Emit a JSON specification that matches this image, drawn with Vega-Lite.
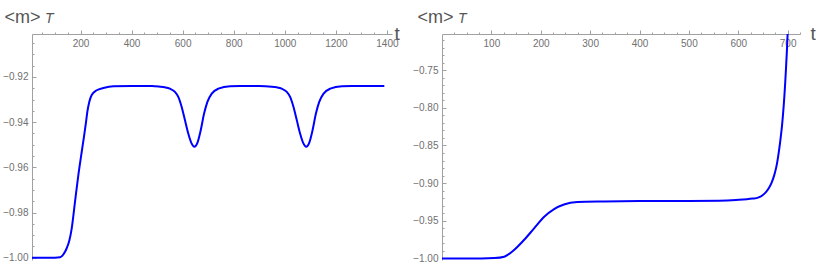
{
  "$schema": "https://vega.github.io/schema/vega-lite/v6.json",
  "padding": {"left": 2, "top": 8, "right": 0, "bottom": 0},
  "background": "white",
  "bounds": "flush",
  "spacing": 50,
  "config": {
    "view": {"stroke": null},
    "font": "Liberation Sans",
    "axis": {
      "grid": false,
      "domainColor": "#a0a0a0",
      "tickColor": "#a0a0a0",
      "labelColor": "#707070",
      "labelFontSize": 10,
      "labelFont": "Liberation Sans",
      "titleFont": "Liberation Sans",
      "titleFontWeight": "normal",
      "titleColor": "#555555",
      "labelFlush": false,
      "labelOverlap": false
    }
  },
  "hconcat": [
    {
      "width": 360,
      "height": 226,
      "data": {"values": [
        {"t": 10, "m": -1.0}, {"t": 100, "m": -1.0}, {"t": 120, "m": -0.9998}, {"t": 133, "m": -0.9985},
        {"t": 146, "m": -0.9958}, {"t": 156, "m": -0.9925}, {"t": 165.6, "m": -0.987}, {"t": 178.5, "m": -0.9752},
        {"t": 191.5, "m": -0.9634}, {"t": 204.8, "m": -0.9531}, {"t": 213.5, "m": -0.9465}, {"t": 221.6, "m": -0.94},
        {"t": 226.7, "m": -0.9355}, {"t": 234.5, "m": -0.931}, {"t": 243.9, "m": -0.928}, {"t": 263.5, "m": -0.9259},
        {"t": 289.4, "m": -0.9249}, {"t": 328.5, "m": -0.9241}, {"t": 400, "m": -0.924}, {"t": 480, "m": -0.924},
        {"t": 511, "m": -0.9243}, {"t": 530, "m": -0.9246}, {"t": 550, "m": -0.9252}, {"t": 570, "m": -0.9266},
        {"t": 583, "m": -0.9288}, {"t": 596, "m": -0.9332}, {"t": 609, "m": -0.9391}, {"t": 622, "m": -0.945},
        {"t": 635, "m": -0.9494}, {"t": 646, "m": -0.9509}, {"t": 657, "m": -0.9494}, {"t": 671, "m": -0.9435},
        {"t": 684, "m": -0.9362}, {"t": 697, "m": -0.931}, {"t": 714, "m": -0.9274}, {"t": 740, "m": -0.9252},
        {"t": 786, "m": -0.9241}, {"t": 825, "m": -0.924}, {"t": 900, "m": -0.924},
        {"t": 949, "m": -0.9243}, {"t": 968, "m": -0.9246}, {"t": 988, "m": -0.9252}, {"t": 1008, "m": -0.9266},
        {"t": 1021, "m": -0.9288}, {"t": 1034, "m": -0.9332}, {"t": 1047, "m": -0.9391}, {"t": 1060, "m": -0.945},
        {"t": 1073, "m": -0.9494}, {"t": 1084, "m": -0.9509}, {"t": 1095, "m": -0.9494}, {"t": 1109, "m": -0.9435},
        {"t": 1122, "m": -0.9362}, {"t": 1135, "m": -0.931}, {"t": 1152, "m": -0.9274}, {"t": 1178, "m": -0.9252},
        {"t": 1224, "m": -0.9241}, {"t": 1263, "m": -0.924}, {"t": 1390, "m": -0.924}
      ]},
      "title": {"text": "T", "anchor": "start", "frame": "group", "fontStyle": "italic", "fontSize": 14, "fontWeight": "normal", "color": "#555555", "dx": 13, "offset": -29, "baseline": "alphabetic"},
      "mark": {"type": "line", "color": "#0000ff", "strokeWidth": 2, "interpolate": "monotone", "clip": true},
      "encoding": {
        "x": {
          "field": "t", "type": "quantitative",
          "scale": {"domain": [10, 1420], "nice": false, "zero": false},
          "axis": {
            "orient": "bottom", "offset": -226,
            "values": [50,100,150,200,250,300,350,400,450,500,550,600,650,700,750,800,850,900,950,1000,1050,1100,1150,1200,1250,1300,1350,1400],
            "format": "d",
            "labelExpr": "datum.value % 200 === 0 ? datum.label : ''",
            "tickSize": {"condition": {"test": "datum.value % 200 === 0", "value": -4}, "value": -2},
            "labelPadding": 8,
            "title": "t", "titleX": 362, "titleY": 5, "titleAlign": "left", "titleBaseline": "alphabetic", "titleFontSize": 19, "titleAngle": 0
          }
        },
        "y": {
          "field": "m", "type": "quantitative",
          "scale": {"domain": [-1.001, -0.901], "nice": false, "zero": false},
          "axis": {
            "values": [-1.0,-0.995,-0.99,-0.985,-0.98,-0.975,-0.97,-0.965,-0.96,-0.955,-0.95,-0.945,-0.94,-0.935,-0.93,-0.925,-0.92,-0.915,-0.91,-0.905],
            "format": ".2f",
            "labelExpr": "abs(datum.value*50 - round(datum.value*50)) < 0.000001 ? datum.label : ''",
            "tickSize": {"condition": {"test": "abs(datum.value*50 - round(datum.value*50)) < 0.000001", "value": -4}, "value": -2},
            "labelPadding": 8,
            "title": "<m>", "titleX": -28, "titleY": -12, "titleAlign": "left", "titleBaseline": "alphabetic", "titleFontSize": 18, "titleAngle": 0
          }
        }
      }
    },
    {
      "width": 358,
      "height": 226,
      "data": {"values": [
        {"t": 0, "m": -1.0}, {"t": 80, "m": -1.0}, {"t": 106, "m": -0.9995}, {"t": 126, "m": -0.9976},
        {"t": 146, "m": -0.9887}, {"t": 166, "m": -0.9755}, {"t": 186.5, "m": -0.96}, {"t": 207, "m": -0.9446},
        {"t": 227, "m": -0.9344}, {"t": 247, "m": -0.9283}, {"t": 274, "m": -0.9251}, {"t": 328, "m": -0.9243},
        {"t": 400, "m": -0.9238}, {"t": 500, "m": -0.9236}, {"t": 561.5, "m": -0.9233}, {"t": 595.4, "m": -0.9224},
        {"t": 629, "m": -0.9205}, {"t": 640, "m": -0.9192}, {"t": 649.3, "m": -0.916}, {"t": 656, "m": -0.912},
        {"t": 662.9, "m": -0.9055}, {"t": 668, "m": -0.8985}, {"t": 673, "m": -0.889}, {"t": 676.5, "m": -0.88},
        {"t": 679.7, "m": -0.869}, {"t": 682.2, "m": -0.858}, {"t": 684.6, "m": -0.8465}, {"t": 686.7, "m": -0.835},
        {"t": 688.6, "m": -0.8235}, {"t": 690.3, "m": -0.811}, {"t": 691.9, "m": -0.798}, {"t": 693.5, "m": -0.783},
        {"t": 695.1, "m": -0.766}, {"t": 696.7, "m": -0.747}, {"t": 698.4, "m": -0.725}, {"t": 700, "m": -0.701}
      ]},
      "title": {"text": "T", "anchor": "start", "frame": "group", "fontStyle": "italic", "fontSize": 14, "fontWeight": "normal", "color": "#555555", "dx": 16, "offset": -29, "baseline": "alphabetic"},
      "mark": {"type": "line", "color": "#0000ff", "strokeWidth": 2, "interpolate": "monotone", "clip": true},
      "encoding": {
        "x": {
          "field": "t", "type": "quantitative",
          "scale": {"domain": [0, 725], "nice": false, "zero": false},
          "axis": {
            "orient": "bottom", "offset": -226,
            "values": [25,50,75,100,125,150,175,200,225,250,275,300,325,350,375,400,425,450,475,500,525,550,575,600,625,650,675,700,725],
            "format": "d",
            "labelExpr": "datum.value % 100 === 0 ? datum.label : ''",
            "tickSize": {"condition": {"test": "datum.value % 100 === 0", "value": -4}, "value": -2},
            "labelPadding": 8,
            "title": "t", "titleX": 368, "titleY": 5, "titleAlign": "left", "titleBaseline": "alphabetic", "titleFontSize": 19, "titleAngle": 0
          }
        },
        "y": {
          "field": "m", "type": "quantitative",
          "scale": {"domain": [-1.002, -0.702], "nice": false, "zero": false},
          "axis": {
            "values": [-1.0,-0.99,-0.98,-0.97,-0.96,-0.95,-0.94,-0.93,-0.92,-0.91,-0.9,-0.89,-0.88,-0.87,-0.86,-0.85,-0.84,-0.83,-0.82,-0.81,-0.8,-0.79,-0.78,-0.77,-0.76,-0.75,-0.74,-0.73,-0.72,-0.71],
            "format": ".2f",
            "labelExpr": "abs(datum.value*20 - round(datum.value*20)) < 0.000001 ? datum.label : ''",
            "tickSize": {"condition": {"test": "abs(datum.value*20 - round(datum.value*20)) < 0.000001", "value": -4}, "value": -2},
            "labelPadding": 8,
            "title": "<m>", "titleX": -25, "titleY": -12, "titleAlign": "left", "titleBaseline": "alphabetic", "titleFontSize": 18, "titleAngle": 0
          }
        }
      }
    }
  ]
}
